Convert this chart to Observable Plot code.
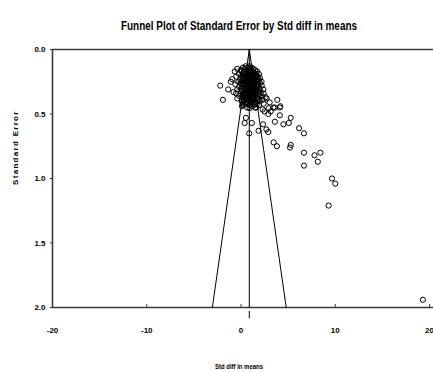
<!DOCTYPE html>
<html><head><meta charset="utf-8">
<script src="https://cdn.jsdelivr.net/npm/d3@7"></script>
<script src="https://cdn.jsdelivr.net/npm/@observablehq/plot@0.6"></script>
<style>
body{margin:0;background:#fff;overflow:hidden}
svg{overflow:visible;display:block}
</style>
</head><body><div id="chart"></div>
<script>
// Each study: standardized difference in means (x) and its standard error (y)
const stdDiff = [
  0.5, 0.9,
  0.2, 0.7, 1.1,
  -0.4, 0.4, 1.0, 1.3,
  0.0, 0.6, 0.9, 1.5,
  -0.66, 0.03, 0.3, 0.8, 1.2, 1.7,
  0.5, 1.0, 1.4,
  0.3, 0.8, 1.25,
  -0.2, 0.2, 0.7, 1.1, 1.6, 1.9,
  0.4, 0.9, 1.3,
  0.15, 0.65, 1.15, 1.6,
  -0.5, 0.1, 0.6, 1.0, 1.5, 1.8,
  0.3, 0.8, 1.2, 2.0,
  0.45, 1.0, 1.5,
  -0.94, -0.1, 0.5, 0.9, 1.4, 1.7,
  0.2, 0.7, 1.1, 1.9,
  0.05, 0.5, 1.4, 1.75,
  -1.08, -0.3, 0.4, 1.0, 1.3, 1.6, 2.18,
  0.0, 0.6, 0.9, 1.5, 2.0,
  0.35, 1.1, 1.7,
  -0.6, 0.3, 0.8, 1.2, 1.8,
  -2.2, 0.1, 0.5, 1.0, 1.4, 2.2,
  0.65, 1.2, 1.8,
  -0.2, 0.7, 1.1, 1.7,
  0.3, 0.9, 1.3, 2.0,
  0.0, 0.6, 1.1, 1.65,
  -1.36, -0.4, 0.5, 1.0, 1.5, 2.38,
  0.1, 0.7, 1.2, 1.8,
  0.35, 1.0, 1.5,
  -0.8, 0.4, 0.9, 1.4, 2.1,
  -0.52, -0.03, 0.6, 1.1, 1.6, 2.4,
  0.2, 0.85, 1.35, 1.95,
  0.3, 0.8, 1.3, 1.9,
  -0.2, 0.5, 1.0, 1.5, 2.2,
  0.1, 0.75, 1.25, 1.75,
  0.2, 0.7, 1.2, 1.8, 2.6,
  -0.4, 0.4, 0.9, 1.4, 2.73,
  0.55, 1.2, 1.9,
  -1.92, 0.1, 0.6, 1.1, 1.7, 2.3, 3.85,
  0.3, 0.8, 1.3, 2.0,
  0.1, 0.6, 1.05, 1.5,
  0.5, 1.0, 1.6, 3.04,
  0.2, 0.7, 1.2, 2.4,
  0.45, 1.0, 1.65,
  0.18, 0.9, 1.4, 1.9,
  0.1, 1.08, 4.17,
  0.66, 1.5, 1.6, 2.94, 3.43, 3.57, 4.12,
  0.91, 2.3,
  2.5, 2.9, 3.15, 4.12,
  0.52, 0.39, 1.15, 3.6, 2.34, 4.5, 5.07, 5.28,
  0.87, 1.86, 2.7, 2.9, 6.16, 6.68,
  3.46, 3.81, 5.2, 5.28,
  6.68, 6.68, 7.8, 8.15, 8.43,
  9.65, 10.0, 9.3, 19.3
];
const stdErr = [
  0.13, 0.13,
  0.14, 0.14, 0.14,
  0.15, 0.15, 0.15, 0.15,
  0.16, 0.16, 0.16, 0.16,
  0.17, 0.17, 0.17, 0.17, 0.17, 0.17,
  0.18, 0.18, 0.18,
  0.185, 0.185, 0.185,
  0.19, 0.19, 0.19, 0.19, 0.19, 0.19,
  0.20, 0.20, 0.20,
  0.205, 0.205, 0.205, 0.205,
  0.21, 0.21, 0.21, 0.21, 0.21, 0.21,
  0.22, 0.22, 0.22, 0.22,
  0.225, 0.225, 0.225,
  0.23, 0.23, 0.23, 0.23, 0.23, 0.23,
  0.24, 0.24, 0.24, 0.24,
  0.245, 0.245, 0.245, 0.245,
  0.25, 0.25, 0.25, 0.25, 0.25, 0.25, 0.25,
  0.26, 0.26, 0.26, 0.26, 0.26,
  0.265, 0.265, 0.265,
  0.27, 0.27, 0.27, 0.27, 0.27,
  0.28, 0.28, 0.28, 0.28, 0.28, 0.28,
  0.285, 0.285, 0.285,
  0.29, 0.29, 0.29, 0.29,
  0.30, 0.30, 0.30, 0.30,
  0.305, 0.305, 0.305, 0.305,
  0.31, 0.31, 0.31, 0.31, 0.31, 0.31,
  0.32, 0.32, 0.32, 0.32,
  0.325, 0.325, 0.325,
  0.33, 0.33, 0.33, 0.33, 0.33,
  0.34, 0.34, 0.34, 0.34, 0.34, 0.34,
  0.345, 0.345, 0.345, 0.345,
  0.35, 0.35, 0.35, 0.35,
  0.36, 0.36, 0.36, 0.36, 0.36,
  0.365, 0.365, 0.365, 0.365,
  0.37, 0.37, 0.37, 0.37, 0.37,
  0.38, 0.38, 0.38, 0.38, 0.38,
  0.385, 0.385, 0.385,
  0.39, 0.39, 0.39, 0.39, 0.39, 0.39, 0.39,
  0.40, 0.40, 0.40, 0.40,
  0.405, 0.405, 0.405, 0.405,
  0.41, 0.41, 0.41, 0.41,
  0.42, 0.42, 0.42, 0.42,
  0.425, 0.425, 0.425,
  0.43, 0.43, 0.43, 0.43,
  0.44, 0.44, 0.44,
  0.45, 0.45, 0.45, 0.455, 0.45, 0.45, 0.45,
  0.455, 0.465,
  0.48, 0.50, 0.48, 0.51,
  0.53, 0.57, 0.57, 0.56, 0.58, 0.58, 0.57, 0.53,
  0.65, 0.63, 0.62, 0.64, 0.61, 0.65,
  0.72, 0.75, 0.76, 0.74,
  0.80, 0.90, 0.82, 0.87, 0.80,
  1.00, 1.04, 1.21, 1.94
];

// Pooled estimate and 95% funnel limits (at SE = 0 and SE = 2)
const pooled = 0.88;
const funnelSE = [0, 2];
const funnelLeft = [0.88, -3.04];
const funnelRight = [0.88, 4.80];

const xTicks = [-20, -10, 0, 10, 20];
const yTicks = [0, 0.5, 1.0, 1.5, 2.0];
const titleText = "Funnel Plot of Standard Error by Std diff in means";
const xLabel = "Std diff in means";
const yLabel = "Standard Error";

const studies = stdDiff.map((d, i) => ({x: d, se: stdErr[i]}));
const leftLine = funnelSE.map((s, i) => ({x: funnelLeft[i], se: s}));
const rightLine = funnelSE.map((s, i) => ({x: funnelRight[i], se: s}));
const midLine = funnelSE.map((s) => ({x: pooled, se: s}));

const FONT = "'Liberation Sans Narrow','Arial Narrow','Liberation Sans',Arial,sans-serif";
const axisColor = "#3a3a3a";

const chart = Plot.plot({
  width: 433,
  height: 372,
  marginLeft: 52,
  marginRight: 4,
  marginTop: 49,
  marginBottom: 65,
  style: {fontFamily: FONT, fontWeight: "bold", fontSize: "8px", background: "#fff", color: "#000"},
  x: {domain: [-20, 20], axis: null},
  y: {domain: [0, 2], reverse: true, axis: null},
  marks: [
    // frame lines
    Plot.ruleY([0, 2], {stroke: axisColor, strokeWidth: 1.6, insetRight: -4}),
    Plot.ruleX([-20], {stroke: axisColor, strokeWidth: 1.6}),
    // funnel
    Plot.line(leftLine, {x: "x", y: "se", stroke: "#000", strokeWidth: 1}),
    Plot.line(rightLine, {x: "x", y: "se", stroke: "#000", strokeWidth: 1}),
    Plot.line(midLine, {x: "x", y: "se", stroke: "#000", strokeWidth: 1}),
    // studies
    Plot.dot(studies, {x: "x", y: "se", r: 2.6, stroke: "#000", fill: "none", strokeWidth: 1}),
    // axes
    Plot.axisX(xTicks, {anchor: "bottom", label: null, tickSize: -3, tickPadding: 23, stroke: axisColor,
      tickFormat: (d) => String(d), fontSize: 8, fontWeight: "bold"}),
    Plot.axisY(yTicks, {anchor: "left", label: null, tickSize: 2, tickPadding: 5, stroke: axisColor,
      tickFormat: d3.format(".1f"), fontSize: 8, fontWeight: "bold"}),
    // pooled estimate marker below axis
    Plot.ruleX([pooled], {x: (d) => d, y1: () => 2, y2: () => 2, insetTop: 4, insetBottom: -11, stroke: "#000", strokeWidth: 1}),
    // title & axis labels
    Plot.text([titleText], {frameAnchor: "top", dy: -24, dx: -2, fontSize: 12.5, fontWeight: "bold", text: (d) => d, lineAnchor: "middle"}),
    Plot.text([xLabel], {frameAnchor: "bottom", dy: 59, dx: -2, fontSize: 8, fontWeight: "bold", text: (d) => d, lineAnchor: "middle"}),
    Plot.text([yLabel], {y: () => 1.05, frameAnchor: "left", dx: -37, rotate: -90, fontSize: 8, fontWeight: "bold", text: (d) => d})
  ]
});
document.getElementById("chart").append(chart);
const svg = d3.select(chart);
svg.selectAll("text").filter(function(){ return this.textContent === yLabel; })
  .attr("letter-spacing", "1.3px");
svg.selectAll("text").filter(function(){ return this.textContent === titleText; })
  .attr("textLength", 236).attr("lengthAdjust", "spacingAndGlyphs");
svg.selectAll("text").filter(function(){ return this.textContent === xLabel; })
  .attr("textLength", 48).attr("lengthAdjust", "spacingAndGlyphs");
</script>
</body></html>
